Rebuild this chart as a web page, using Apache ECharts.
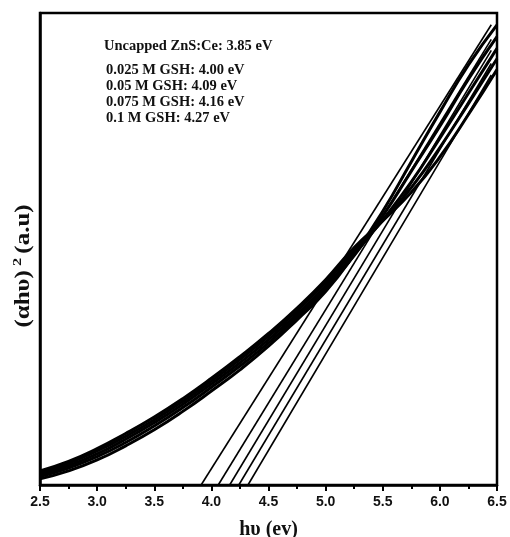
<!DOCTYPE html>
<html>
<head>
<meta charset="utf-8">
<script src="https://cdn.jsdelivr.net/npm/echarts@6/dist/echarts.min.js"></script>
<style>
  html, body { margin: 0; padding: 0; background: #fff; }
  #chart { width: 510px; height: 537px; }
</style>
</head>
<body>
<div id="chart"></div>
<script>
// photon energy (eV) where the curves were sampled
const energy = [2.5, 2.75, 3.0, 3.25, 3.5, 3.75, 4.0, 4.25, 4.5, 4.75, 5.0, 5.25, 5.5, 5.75, 6.0, 6.25, 6.5]

// (alpha h nu)^2, arbitrary units (0..100 over the plot height)
const uncapped = [1.3, 3.0, 5.3, 8.3, 11.7, 15.6, 19.9, 24.4, 29.4, 35.0, 41.0, 48.8, 58.0, 68.5, 79.0, 89.0, 97.5]
const gsh025 = [1.8, 3.6, 6.0, 9.0, 12.5, 16.4, 20.7, 25.2, 30.1, 35.6, 41.6, 48.6, 57.0, 66.5, 76.0, 86.0, 95.0]
const gsh05 = [2.2, 4.1, 6.6, 9.7, 13.2, 17.1, 21.4, 25.9, 30.8, 36.2, 42.2, 49.0, 56.2, 64.2, 73.5, 83.0, 92.5]
const gsh075 = [2.6, 4.6, 7.2, 10.3, 13.8, 17.7, 22.0, 26.6, 31.5, 36.9, 42.9, 49.6, 56.0, 63.0, 71.5, 80.8, 90.3]
const gsh1 = [3.0, 5.0, 7.7, 10.9, 14.4, 18.3, 22.6, 27.2, 32.1, 37.5, 43.5, 50.3, 56.0, 62.0, 69.5, 78.5, 88.0]

// linear fits (start on the energy axis, end near the top)
const tangentStart = [3.91, 4.06, 4.16, 4.24, 4.32]
const tangentEndX = [6.45, 6.45, 6.45, 6.45, 6.45]
const tangentEndY = [97.5, 94.4, 92.1, 89.3, 86.9]

const bandGapLabels = [
  'Uncapped ZnS:Ce: 3.85 eV',
  '0.025 M GSH: 4.00 eV',
  '0.05 M GSH: 4.09 eV',
  '0.075 M GSH: 4.16 eV',
  '0.1 M GSH: 4.27 eV'
]

const curves = [uncapped, gsh025, gsh05, gsh075, gsh1]

const chart = echarts.init(document.getElementById('chart'))

const series = []
curves.forEach((c, i) => {
  series.push({
    name: bandGapLabels[i],
    type: 'line',
    smooth: true,
    showSymbol: false,
    data: energy.map((x, k) => [x, c[k]]),
    lineStyle: { color: '#000', width: 3 }
  })
})
tangentStart.forEach((x0, i) => {
  series.push({
    type: 'line',
    showSymbol: false,
    data: [[x0, 0], [tangentEndX[i], tangentEndY[i]]],
    lineStyle: { color: '#000', width: 1.6 }
  })
})

const labelTop = [47, 71, 87, 103, 119]

chart.setOption({
  animation: false,
  grid: {
    left: 40,
    right: 13,
    top: 13,
    bottom: 52,
    containLabel: false,
    outerBoundsMode: 'none',
    show: true,
    borderColor: '#000',
    borderWidth: 2.5
  },
  xAxis: {
    type: 'value',
    min: 2.5,
    max: 6.5,
    interval: 0.5,
    name: 'hυ (ev)',
    nameLocation: 'middle',
    nameGap: 35,
    nameTextStyle: {
      fontFamily: 'Liberation Serif',
      fontWeight: 'bold',
      fontSize: 20,
      color: '#111'
    },
    axisLine: { lineStyle: { color: '#000', width: 2.5 } },
    axisTick: { inside: false, length: 6, lineStyle: { color: '#000', width: 2 } },
    minorTick: { show: true, splitNumber: 2, length: 4, lineStyle: { color: '#000', width: 2 } },
    splitLine: { show: false },
    axisLabel: {
      margin: 10,
      fontFamily: 'Liberation Sans',
      fontWeight: 'bold',
      fontSize: 14,
      color: '#111',
      formatter: v => v.toFixed(1)
    }
  },
  yAxis: {
    type: 'value',
    min: 0,
    max: 100,
    axisLine: { show: true, lineStyle: { color: '#000', width: 2.5 } },
    axisTick: { show: false },
    axisLabel: { show: false },
    splitLine: { show: false }
  },
  graphic: [
    {
      type: 'text',
      x: 24,
      y: 266,
      rotation: Math.PI / 2,
      scaleX: 1.25,
      style: {
        text: '{a|(αhυ)} {s|2} {a|(a.u)}',
        align: 'center',
        verticalAlign: 'middle',
        fill: '#111',
        rich: {
          a: { fontFamily: 'Liberation Serif', fontWeight: 'bold', fontSize: 20 },
          s: { fontFamily: 'Liberation Serif', fontWeight: 'bold', fontSize: 13, padding: [0, 0, 12, 0] }
        }
      }
    }
  ].concat(bandGapLabels.map((t, i) => ({
    type: 'text',
    left: i === 0 ? 104 : 106,
    top: labelTop[i] - 8,
    style: {
      text: t,
      fill: '#111',
      font: 'bold 14.5px "Liberation Serif"'
    }
  }))),
  series: series
})
</script>
</body>
</html>
